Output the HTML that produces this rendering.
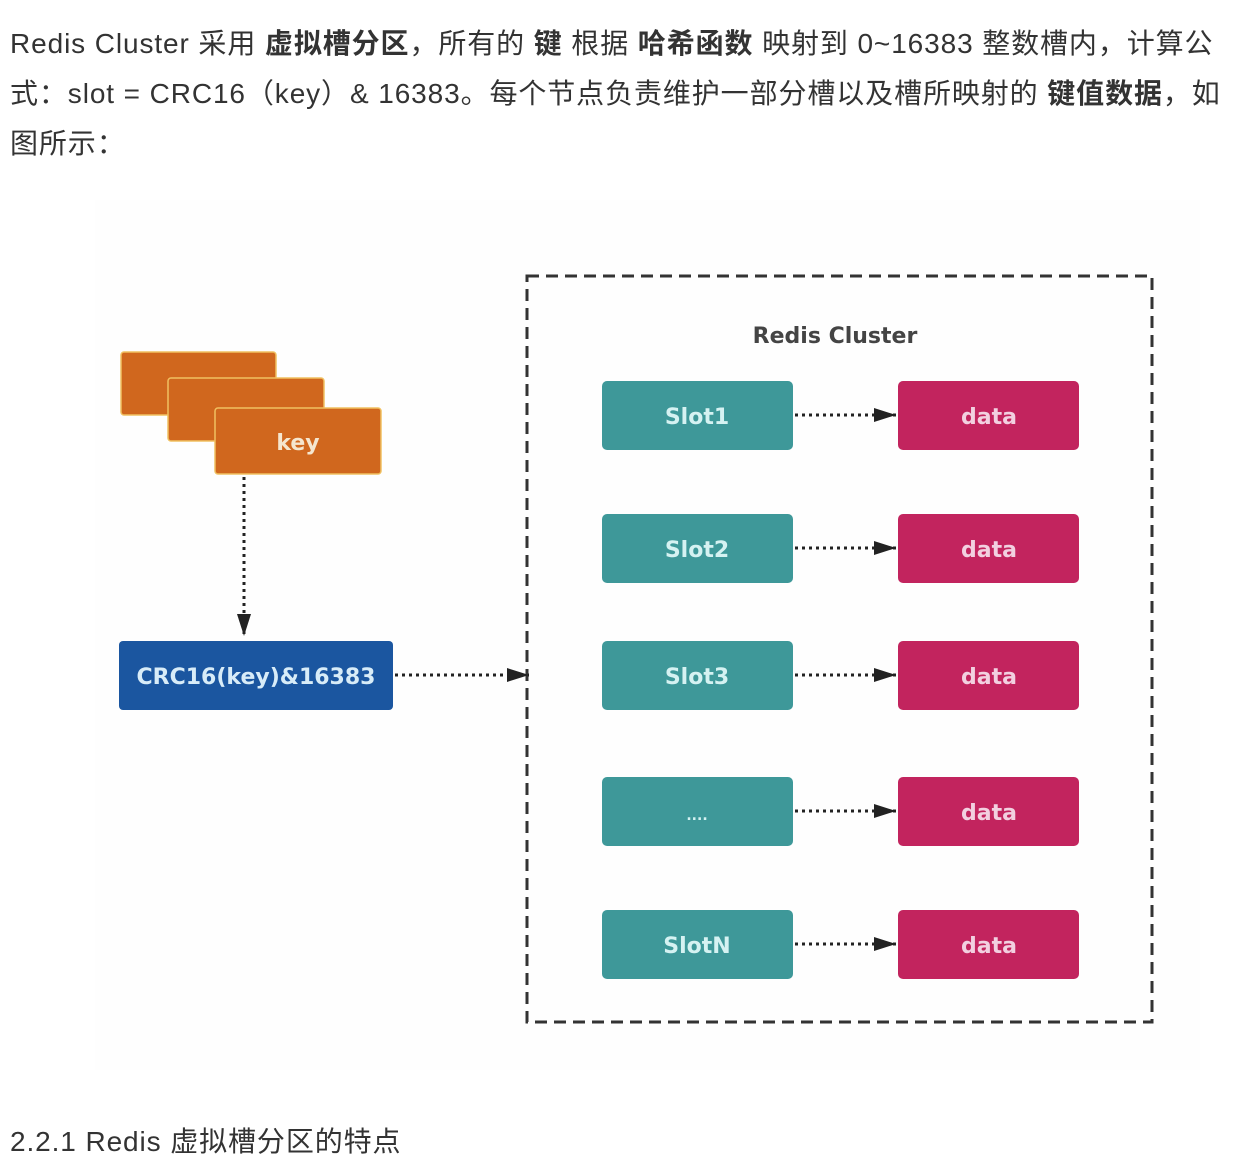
<!DOCTYPE html>
<html><head><meta charset="utf-8"><style>
body{margin:0;width:1244px;height:1134px;background:#fff;overflow:hidden;position:relative;font-family:"Liberation Sans","Noto Sans CJK SC",sans-serif;color:#333}
.p{position:absolute;left:10px;top:19px;font-size:28px;letter-spacing:0.9px;line-height:50px;width:1234px;white-space:nowrap}
.h{position:absolute;left:10px;top:1120px;font-size:28px;letter-spacing:0.9px;white-space:nowrap}
b{font-weight:bold}
svg{position:absolute;left:0;top:0}
</style></head><body>
<div class="p">Redis Cluster 采用 <b>虚拟槽分区</b>，所有的 <b>键</b> 根据 <b>哈希函数</b> 映射到 0~16383 整数槽内，计算公<br>式：slot = CRC16（key）&amp; 16383。每个节点负责维护一部分槽以及槽所映射的 <b>键值数据</b>，如<br>图所示：</div>
<svg width="1244" height="1134" font-family="'DejaVu Sans',sans-serif" font-weight="bold">
<defs><marker id="b" markerWidth="22" markerHeight="14" refX="22" refY="7" orient="auto" markerUnits="userSpaceOnUse"><path d="M0,0 L22,7 L0,14z" fill="#222"/></marker></defs>
<rect x="95" y="200" width="1105" height="870" fill="#fefefe"/>
<rect x="527" y="276" width="625" height="746" fill="none" stroke="#333" stroke-width="3" stroke-dasharray="12,7"/>
<text x="835" y="343" text-anchor="middle" font-size="22" fill="#444">Redis Cluster</text>
<rect x="121" y="352" width="155" height="63" rx="3" fill="#d0671e" stroke="#f0c060" stroke-width="1.5"/>
<rect x="168" y="378" width="156" height="63" rx="3" fill="#d0671e" stroke="#f0c060" stroke-width="1.5"/>
<rect x="215" y="408" width="166" height="66" rx="3" fill="#d0671e" stroke="#f0c060" stroke-width="1.5"/>
<text x="298" y="450" text-anchor="middle" font-size="22" fill="#f5e6cf">key</text>
<line x1="244" y1="477" x2="244" y2="636" stroke="#222" stroke-width="3" stroke-dasharray="3,4" marker-end="url(#b)"/>
<rect x="119" y="641" width="274" height="69" rx="4" fill="#1b56a0"/>
<text x="256" y="684" text-anchor="middle" font-size="22" fill="#d8ecf8">CRC16(key)&amp;16383</text>
<line x1="395" y1="675" x2="529" y2="675" stroke="#222" stroke-width="3" stroke-dasharray="3,4" marker-end="url(#b)"/>
<g font-size="22">
<g transform="translate(0,0)"><rect x="602" y="381" width="191" height="69" rx="5" fill="#3e9899"/><text x="697" y="424" text-anchor="middle" fill="#d5f2f2">Slot1</text><line x1="795" y1="415" x2="896" y2="415" stroke="#222" stroke-width="3" stroke-dasharray="3,4" marker-end="url(#b)"/><rect x="898" y="381" width="181" height="69" rx="5" fill="#c2245e"/><text x="989" y="424" text-anchor="middle" fill="#f2d0e0">data</text></g>
<g transform="translate(0,133)"><rect x="602" y="381" width="191" height="69" rx="5" fill="#3e9899"/><text x="697" y="424" text-anchor="middle" fill="#d5f2f2">Slot2</text><line x1="795" y1="415" x2="896" y2="415" stroke="#222" stroke-width="3" stroke-dasharray="3,4" marker-end="url(#b)"/><rect x="898" y="381" width="181" height="69" rx="5" fill="#c2245e"/><text x="989" y="424" text-anchor="middle" fill="#f2d0e0">data</text></g>
<g transform="translate(0,260)"><rect x="602" y="381" width="191" height="69" rx="5" fill="#3e9899"/><text x="697" y="424" text-anchor="middle" fill="#d5f2f2">Slot3</text><line x1="795" y1="415" x2="896" y2="415" stroke="#222" stroke-width="3" stroke-dasharray="3,4" marker-end="url(#b)"/><rect x="898" y="381" width="181" height="69" rx="5" fill="#c2245e"/><text x="989" y="424" text-anchor="middle" fill="#f2d0e0">data</text></g>
<g transform="translate(0,396)"><rect x="602" y="381" width="191" height="69" rx="5" fill="#3e9899"/><text x="697" y="424" text-anchor="middle" fill="#d5f2f2" font-size="14">....</text><line x1="795" y1="415" x2="896" y2="415" stroke="#222" stroke-width="3" stroke-dasharray="3,4" marker-end="url(#b)"/><rect x="898" y="381" width="181" height="69" rx="5" fill="#c2245e"/><text x="989" y="424" text-anchor="middle" fill="#f2d0e0">data</text></g>
<g transform="translate(0,529)"><rect x="602" y="381" width="191" height="69" rx="5" fill="#3e9899"/><text x="697" y="424" text-anchor="middle" fill="#d5f2f2">SlotN</text><line x1="795" y1="415" x2="896" y2="415" stroke="#222" stroke-width="3" stroke-dasharray="3,4" marker-end="url(#b)"/><rect x="898" y="381" width="181" height="69" rx="5" fill="#c2245e"/><text x="989" y="424" text-anchor="middle" fill="#f2d0e0">data</text></g>
</g>
</svg>
<div class="h">2.2.1 Redis 虚拟槽分区的特点</div>
</body></html>
